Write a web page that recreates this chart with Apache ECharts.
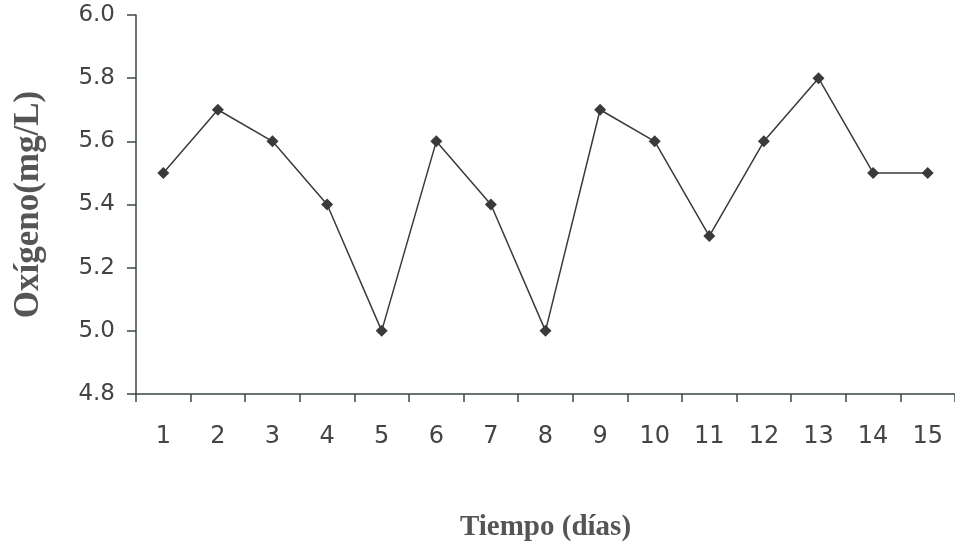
<!DOCTYPE html>
<html>
<head>
<meta charset="utf-8">
<script src="https://cdn.jsdelivr.net/npm/echarts@6/dist/echarts.min.js"></script>
<style>html,body{margin:0;padding:0;background:#fff}#c{width:955px;height:549px}</style>
</head>
<body>
<div id="c"></div>
<script>
var categories = ['1','2','3','4','5','6','7','8','9','10','11','12','13','14','15'];
var oxygen = [5.5, 5.7, 5.6, 5.4, 5.0, 5.6, 5.4, 5.0, 5.7, 5.6, 5.3, 5.6, 5.8, 5.5, 5.5];
var xTitle = 'Tiempo (días)';
var yTitle = 'Oxígeno(mg/L)';

var chart = echarts.init(document.getElementById('c'));
chart.setOption({
  animation: false,
  backgroundColor: '#ffffff',
  grid: { left: 136, top: 15, width: 823, height: 379 },
  xAxis: {
    type: 'category',
    data: categories,
    boundaryGap: true,
    axisLine: { lineStyle: { color: '#3d4746', width: 1.5 } },
    axisTick: { show: true, length: 8, lineStyle: { color: '#3d4746', width: 1.5 } },
    axisLabel: { color: '#444', fontSize: 24, fontFamily: 'DejaVu Sans', margin: 31 },
    splitLine: { show: false },
    name: xTitle,
    nameLocation: 'middle',
    nameGap: 119,
    nameTextStyle: { fontFamily: 'Liberation Serif', fontWeight: 'bold', fontSize: 29, color: '#555' }
  },
  yAxis: {
    type: 'value',
    min: 4.8,
    max: 6.0,
    interval: 0.2,
    axisLine: { show: true, lineStyle: { color: '#3d4746', width: 1.5 } },
    axisTick: { show: true, length: 9, lineStyle: { color: '#3d4746', width: 1.5 } },
    axisLabel: { color: '#444', fontSize: 23, fontFamily: 'DejaVu Sans', margin: 21, formatter: function(v){ return v.toFixed(1); } },
    splitLine: { show: false },
    name: yTitle,
    nameLocation: 'middle',
    nameGap: 90,
    nameTextStyle: { fontFamily: 'Liberation Serif', fontWeight: 'bold', fontSize: 35, color: '#555' }
  },
  series: [{
    type: 'line',
    data: oxygen,
    symbol: 'diamond',
    symbolSize: 12,
    itemStyle: { color: '#3a3a3a' },
    lineStyle: { color: '#3a3a3a', width: 1.5 }
  }]
});
</script>
</body>
</html>
